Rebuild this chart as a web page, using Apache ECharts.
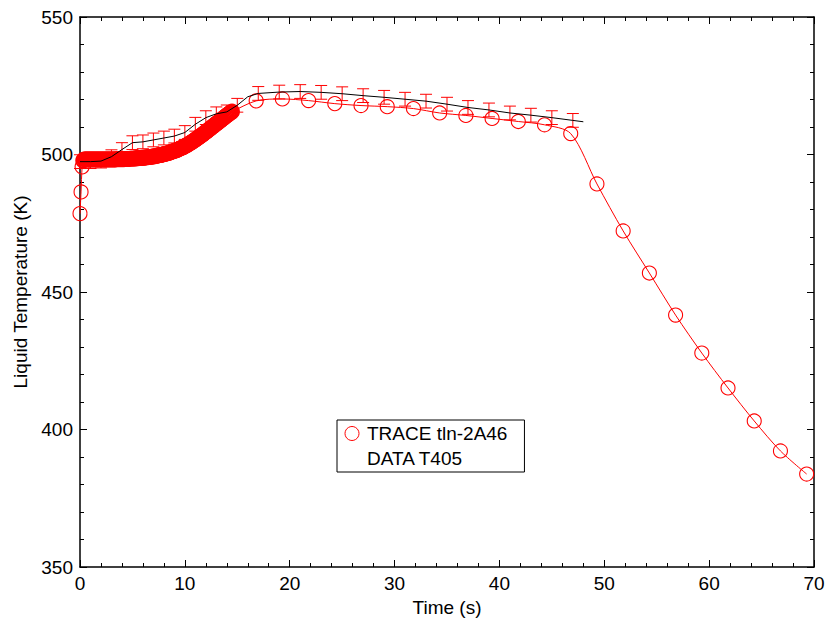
<!DOCTYPE html>
<html>
<head>
<meta charset="utf-8">
<script src="https://cdn.jsdelivr.net/npm/echarts@6/dist/echarts.min.js"></script>
<style>html,body{margin:0;padding:0;background:#fff}#c{width:827px;height:618px}</style>
</head>
<body>
<div id="c"></div>
<script>
// TRACE tln-2A46 (time s, liquid temperature K)
const traceT = [
0,0.1,0.2,0.3,0.4,0.5,0.6,0.7,0.8,0.9,
1.0,1.1,1.2,1.3,1.4,1.5,1.6,1.7,1.8,1.9,
2.0,2.1,2.2,2.3,2.4,2.5,2.6,2.7,2.8,2.9,
3.0,3.1,3.2,3.3,3.4,3.5,3.6,3.7,3.8,3.9,
4.0,4.1,4.2,4.3,4.4,4.5,4.6,4.7,4.8,4.9,
5.0,5.1,5.2,5.3,5.4,5.5,5.6,5.7,5.8,5.9,
6.0,6.1,6.2,6.3,6.4,6.5,6.6,6.7,6.8,6.9,
7.0,7.1,7.2,7.3,7.4,7.5,7.6,7.7,7.8,7.9,
8.0,8.1,8.2,8.3,8.4,8.5,8.6,8.7,8.8,8.9,
9.0,9.1,9.2,9.3,9.4,9.5,9.6,9.7,9.8,9.9,
10.0,10.1,10.2,10.3,10.4,10.5,10.6,10.7,10.8,10.9,
11.0,11.1,11.2,11.3,11.4,11.5,11.6,11.7,11.8,11.9,
12.0,12.1,12.2,12.3,12.4,12.5,12.6,12.7,12.8,12.9,
13.0,13.1,13.2,13.3,13.4,13.5,13.6,13.7,13.8,13.9,
14.0,14.1,14.2,14.3,14.4,14.5,
16.8,19.3,21.8,24.3,26.8,29.3,31.8,34.3,36.8,39.3,41.8,44.3,46.8,
49.3,51.8,54.3,56.8,59.3,61.8,64.3,66.8,69.3
];
const traceV = [
478.5,486.4,495.5,497.8,498.2,498.2,498.2,498.2,498.2,498.2,
498.2,498.2,498.2,498.2,498.2,498.2,498.2,498.2,498.2,498.2,
498.2,498.2,498.2,498.2,498.2,498.2,498.2,498.2,498.2,498.2,
498.2,498.2,498.2,498.2,498.2,498.3,498.3,498.3,498.3,498.3,
498.3,498.3,498.3,498.4,498.4,498.4,498.4,498.4,498.5,498.5,
498.5,498.5,498.5,498.6,498.6,498.6,498.7,498.7,498.7,498.8,
498.8,498.8,498.9,498.9,499.0,499.0,499.1,499.1,499.2,499.2,
499.3,499.4,499.4,499.5,499.6,499.7,499.8,499.8,499.9,500.0,
500.1,500.2,500.3,500.4,500.5,500.6,500.8,500.9,501.0,501.2,
501.3,501.4,501.6,501.7,501.9,502.1,502.3,502.4,502.6,502.8,
503.0,503.2,503.4,503.7,503.9,504.1,504.4,504.6,504.9,505.1,
505.4,505.7,505.9,506.2,506.5,506.8,507.0,507.3,507.6,507.9,
508.2,508.5,508.8,509.1,509.4,509.7,510.0,510.3,510.6,510.9,
511.2,511.5,511.8,512.1,512.4,512.7,513.0,513.3,513.6,513.9,
514.2,514.5,514.8,515.1,515.3,515.6,
519.5,520.2,519.6,518.5,517.8,517.4,516.7,515.1,514.2,513.1,512.0,510.8,507.6,
489.3,472.2,456.9,441.6,427.8,415.1,403.1,392.2,383.8
];

// DATA T405 (time s, temperature K, error half-width K; null = no bar drawn)
const dataT = [0,1,2,3,4,5,6,7,8,9,10,11,12,13,14,15,16,17,19,21,23,25,27,29,31,33,35,37,39,41,43,45,47,48];
const dataV = [497.4,497.4,497.6,499.2,501.8,504.3,504.6,505.3,506.0,506.7,508.0,511.0,513.4,514.8,515.5,517.9,521.0,
  522.2,522.7,522.9,522.6,522.1,521.4,520.8,520.1,519.4,518.3,517.1,516.2,515.1,514.3,513.4,512.4,511.9];
const dataErr = [2.5,2.5,2.5,2.5,2.5,2.5,2.5,2.5,2.5,2.5,2.5,2.5,2.5,2.5,2.5,2.5,null,
  2.5,2.5,2.5,2.5,2.5,2.5,2.5,2.5,2.5,2.5,2.5,2.5,2.5,2.5,2.5,2.5,null];

const xTicks = [0,10,20,30,40,50,60,70];
const yTicks = [350,400,450,500,550];

const FONT = 'Liberation Sans, Arial, Helvetica, sans-serif';
const chart = echarts.init(document.getElementById('c'), null, {renderer: 'svg'});

// dense early samples (t <= 14.5) are drawn with a slightly heavier ring so they merge into a band
const tracePts = traceT.map((t, i) => ({
  value: [t, traceV[i]],
  itemStyle: {borderWidth: t <= 14.5 && t > 0.25 ? 1.8 : 1.1}
}));
const dataPts = dataT.map((t, i) => [t, dataV[i]]);
const errPts = [];
dataT.forEach((t, i) => { if (dataErr[i] != null) errPts.push([t, dataV[i] - dataErr[i], dataV[i] + dataErr[i]]); });

function axisCommon(showLabel, pos) {
  return {
    axisLine: {show: true, onZero: false, lineStyle: {color: '#000', width: 1.5}},
    axisTick: {show: true, inside: true, length: 7, lineStyle: {color: '#000', width: 1}},
    minorTick: {show: true, splitNumber: 5, length: 4, lineStyle: {color: '#000', width: 1}},
    splitLine: {show: false},
    axisLabel: {show: showLabel, color: '#000', fontSize: 19, fontFamily: FONT, margin: 7},
    position: pos
  };
}

const option = {
  animation: false,
  backgroundColor: '#fff',
  grid: {left: 80, right: 13, top: 17, bottom: 51, containLabel: false, outerBoundsMode: 'none'},
  xAxis: [
    Object.assign(axisCommon(true, 'bottom'), {type: 'value', min: xTicks[0], max: xTicks[xTicks.length-1], interval: 10,
      name: 'Time (s)', nameLocation: 'middle', nameGap: 27,
      nameTextStyle: {color: '#000', fontSize: 19, fontFamily: FONT}}),
    Object.assign(axisCommon(false, 'top'), {type: 'value', min: xTicks[0], max: xTicks[xTicks.length-1], interval: 10})
  ],
  yAxis: [
    Object.assign(axisCommon(true, 'left'), {type: 'value', min: yTicks[0], max: yTicks[yTicks.length-1], interval: 50,
      name: 'Liquid Temperature (K)', nameLocation: 'middle', nameGap: 50, nameRotate: 90,
      nameTextStyle: {color: '#000', fontSize: 19, fontFamily: FONT}}),
    Object.assign(axisCommon(false, 'right'), {type: 'value', min: yTicks[0], max: yTicks[yTicks.length-1], interval: 50})
  ],
  legend: {
    show: true, orient: 'vertical', left: 337, top: 420,
    itemWidth: 20, itemHeight: 14, itemGap: 6,
    padding: [4, 17, 4, 5],
    borderColor: '#000', borderWidth: 1, backgroundColor: '#fff',
    textStyle: {color: '#000', fontSize: 19, fontFamily: FONT},
    selectedMode: false,
    data: [
      {name: 'TRACE tln-2A46', icon: 'circle', itemStyle: {color: 'rgba(0,0,0,0)', borderColor: '#ff0000', borderWidth: 1}},
      {name: 'DATA T405', icon: 'none'}
    ]
  },
  series: [
    {
      name: 'TRACE tln-2A46', type: 'line', data: tracePts, smooth: 0.3,
      symbol: 'circle', symbolSize: 14, showSymbol: true, showAllSymbol: true, clip: false,
      lineStyle: {color: '#ff0000', width: 1},
      itemStyle: {color: 'rgba(0,0,0,0)', borderColor: '#ff0000', borderWidth: 1.1},
      emphasis: {disabled: true}, z: 2
    },
    {
      name: 'errbars', type: 'custom', data: errPts, z: 3,
      encode: {x: 0, y: [1, 2]},
      renderItem: function (params, api) {
        const x = api.value(0);
        const lo = api.coord([x, api.value(1)]);
        const hi = api.coord([x, api.value(2)]);
        const hw = 6;
        const st = {stroke: '#ff0000', lineWidth: 1, fill: null};
        return {type: 'group', children: [
          {type: 'line', shape: {x1: lo[0], y1: lo[1], x2: hi[0], y2: hi[1]}, style: st},
          {type: 'line', shape: {x1: hi[0]-hw, y1: hi[1], x2: hi[0]+hw, y2: hi[1]}, style: st},
          {type: 'line', shape: {x1: lo[0]-hw, y1: lo[1], x2: lo[0]+hw, y2: lo[1]}, style: st}
        ]};
      }
    },
    {
      name: 'DATA T405', type: 'line', data: dataPts, symbol: 'none', clip: false,
      lineStyle: {color: '#000', width: 1}, itemStyle: {color: '#000'},
      emphasis: {disabled: true}, z: 4
    }
  ]
};
chart.setOption(option);
</script>
</body>
</html>
